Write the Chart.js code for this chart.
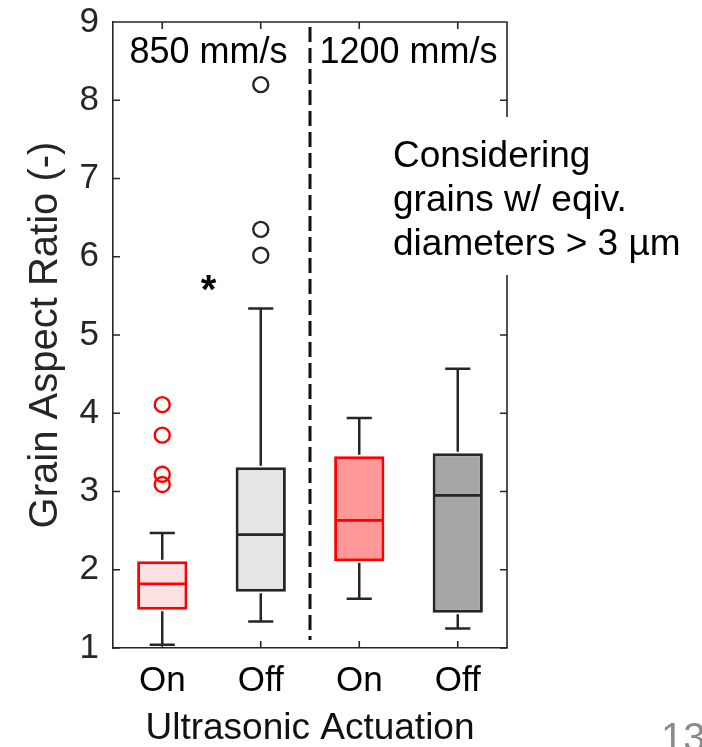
<!DOCTYPE html>
<html>
<head>
<meta charset="utf-8">
<script src="https://cdn.jsdelivr.net/npm/chart.js@4.4.1/dist/chart.umd.min.js"></script>
<style>
  html, body { margin: 0; padding: 0; background: #fff; }
  canvas { display: block; }
</style>
</head>
<body>
<canvas id="myChart" width="702" height="747"></canvas>
<script>
// data
const categories = ['On', 'Off', 'On', 'Off'];
const whiskerLow = [1.04, 1.34, 1.63, 1.25];
const q1 = [1.49, 1.72, 2.11, 1.45];
const median = [1.82, 2.45, 2.63, 2.95];
const q3 = [2.11, 3.31, 3.45, 3.49];
const whiskerHigh = [2.47, 5.34, 3.94, 4.57];
const outliersOn850 = [4.11, 3.72, 3.22, 3.09];
const outliersOff850 = [8.20, 6.35, 6.02];
const speedLabels = ['850 mm/s', '1200 mm/s'];
const noteLines = ['Considering', 'grains w/ eqiv.', 'diameters > 3 µm'];
const signifMark = { x: 0.47, y: 5.67, text: '*' };

const FONT = '"Liberation Sans", Arial, sans-serif';
const INK = '#262626';
const fillColors = ['#fde1e3', '#e6e6e6', '#ff9999', '#a6a6a6'];
const edgeColors = ['#ff0000', INK, '#ff0000', INK];

Chart.defaults.font.family = FONT;

// whiskers, caps and medians on top of the floating bars
const boxPlotPlugin = {
  id: 'boxPlot',
  afterDatasetsDraw(chart) {
    const { ctx } = chart;
    const x = chart.scales.x, y = chart.scales.y;
    const bars = chart.getDatasetMeta(0).data;
    ctx.save();
    categories.forEach((c, i) => {
      const cx = x.getPixelForValue(i);
      const w = bars[i].width;
      const yLo = y.getPixelForValue(whiskerLow[i]);
      const yHi = y.getPixelForValue(whiskerHigh[i]);
      const yMed = y.getPixelForValue(median[i]);
      ctx.strokeStyle = INK;
      ctx.lineWidth = 2.5;
      ctx.beginPath();
      ctx.moveTo(cx, y.getPixelForValue(q3[i]) - 1.5); ctx.lineTo(cx, yHi);
      ctx.moveTo(cx - w / 4, yHi); ctx.lineTo(cx + w / 4, yHi);
      ctx.moveTo(cx, y.getPixelForValue(q1[i]) + 1.5); ctx.lineTo(cx, yLo);
      ctx.moveTo(cx - w / 4, yLo); ctx.lineTo(cx + w / 4, yLo);
      ctx.stroke();
      ctx.strokeStyle = edgeColors[i];
      ctx.lineWidth = 2.8;
      ctx.beginPath();
      ctx.moveTo(cx - w / 2 + 1.5, yMed); ctx.lineTo(cx + w / 2 - 1.5, yMed);
      ctx.stroke();
    });
    ctx.restore();
  }
};

// box frame, inward ticks, divider and annotations
const framePlugin = {
  id: 'frame',
  afterDraw(chart) {
    const { ctx, chartArea: a } = chart;
    const x = chart.scales.x, y = chart.scales.y;
    ctx.save();
    ctx.strokeStyle = INK;
    ctx.lineWidth = 1.6;
    ctx.beginPath();
    ctx.moveTo(a.left, a.top); ctx.lineTo(a.right, a.top); ctx.lineTo(a.right, a.bottom);
    y.ticks.forEach(t => {
      const py = y.getPixelForValue(t.value);
      ctx.moveTo(a.left, py); ctx.lineTo(a.left + 7, py);
      ctx.moveTo(a.right, py); ctx.lineTo(a.right - 7, py);
    });
    categories.forEach((c, i) => {
      const px = x.getPixelForValue(i);
      ctx.moveTo(px, a.bottom); ctx.lineTo(px, a.bottom - 7);
      ctx.moveTo(px, a.top); ctx.lineTo(px, a.top + 7);
    });
    ctx.stroke();

    // dashed divider between the two speeds
    const divX = x.getPixelForValue(1.5);
    ctx.strokeStyle = '#111';
    ctx.lineWidth = 3;
    ctx.setLineDash([15, 6]);
    ctx.beginPath();
    ctx.moveTo(divX, a.top + 5); ctx.lineTo(divX, a.bottom - 8);
    ctx.stroke();
    ctx.setLineDash([]);

    // speed labels
    ctx.fillStyle = '#000';
    ctx.font = '36px ' + FONT;
    ctx.textAlign = 'center';
    ctx.textBaseline = 'alphabetic';
    ctx.fillText(speedLabels[0], x.getPixelForValue(0.47), a.top + 41);
    ctx.fillText(speedLabels[1], x.getPixelForValue(2.5), a.top + 41);

    // significance mark
    ctx.font = 'bold 40px ' + FONT;
    ctx.fillText(signifMark.text, x.getPixelForValue(signifMark.x), y.getPixelForValue(signifMark.y) + 20);

    // note with white background hiding the right spine
    ctx.fillStyle = '#fff';
    ctx.fillRect(386, 117, 316, 158);
    ctx.fillStyle = '#000';
    ctx.font = '37px ' + FONT;
    ctx.textAlign = 'left';
    noteLines.forEach((line, k) => ctx.fillText(line, 393, 167 + k * 44));

    // slide number, cut by the bottom edge
    ctx.fillStyle = '#8a8a8a';
    ctx.font = '40px ' + FONT;
    ctx.fillText('13', 661, 751);
    ctx.restore();
  }
};

const ctx = document.getElementById('myChart').getContext('2d');
const myChart = new Chart(ctx, {
  type: 'bar',
  data: {
    datasets: [
      {
        type: 'bar',
        data: categories.map((c, i) => ({ x: i, y: [q1[i], q3[i]] })),
        backgroundColor: fillColors,
        borderColor: edgeColors,
        borderWidth: 3,
        borderSkipped: false,
        categoryPercentage: 1,
        barPercentage: 0.51
      },
      {
        type: 'scatter',
        data: outliersOn850.map(v => ({ x: 0, y: v })),
        pointRadius: 7.5,
        pointBorderWidth: 2.4,
        borderColor: '#ff0000',
        backgroundColor: 'rgba(0,0,0,0)'
      },
      {
        type: 'scatter',
        data: outliersOff850.map(v => ({ x: 1, y: v })),
        pointRadius: 7.5,
        pointBorderWidth: 2.4,
        borderColor: INK,
        backgroundColor: 'rgba(0,0,0,0)'
      }
    ]
  },
  options: {
    responsive: false,
    animation: false,
    layout: { padding: { top: 22, right: 195, left: 0, bottom: 0 } },
    plugins: { legend: { display: false }, tooltip: { enabled: false } },
    scales: {
      x: {
        type: 'linear',
        min: -0.5,
        max: 3.5,
        offset: false,
        afterBuildTicks: s => { s.ticks = categories.map((c, i) => ({ value: i })); },
        afterFit: s => { s.height = 99; },
        grid: { display: false, drawTicks: false },
        border: { display: true, color: INK, width: 1.6 },
        ticks: {
          color: '#000',
          font: { size: 35 },
          padding: 12,
          maxRotation: 0,
          autoSkip: false,
          callback: v => categories[v]
        },
        title: {
          display: true,
          text: 'Ultrasonic Actuation',
          color: '#111',
          font: { size: 37, lineHeight: 1 },
          padding: 0
        }
      },
      y: {
        min: 1,
        max: 9,
        afterFit: s => { s.width = 113; },
        grid: { display: false, drawTicks: false },
        border: { display: true, color: INK, width: 1.6 },
        ticks: { stepSize: 1, color: INK, font: { size: 35, lineHeight: 0.4 }, padding: 14 },
        title: {
          display: true,
          text: 'Grain Aspect Ratio (-)',
          color: INK,
          font: { size: 40, lineHeight: 1 },
          padding: { top: 26, bottom: 0 }
        }
      }
    }
  },
  plugins: [boxPlotPlugin, framePlugin]
});
</script>
</body>
</html>
